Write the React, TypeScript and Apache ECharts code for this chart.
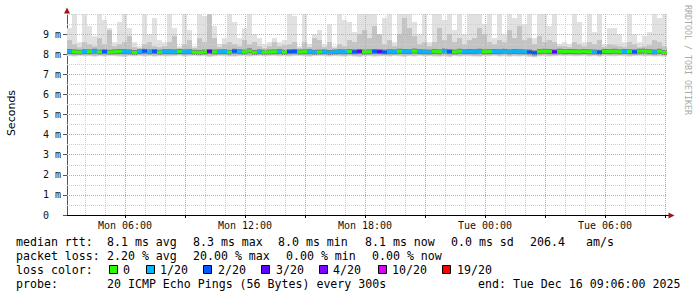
import React, { useEffect, useRef } from 'react';
import * as echarts from 'echarts';

// time axis: hours since Mon 00:00; window Mon 03:06 .. Tue 09:06
const START_HOUR = 3.1;
const END_HOUR = 33.1;
const STEP_HOURS = 0.25;

// values in milliseconds, one per 15-minute step
const medianRtt = [
  8.14, 8.12, 8.10, 8.13, 8.12, 8.15, 8.11, 8.13, 8.10, 8.12, 8.14, 8.13, 8.12, 8.09, 8.13, 8.15, 8.12, 8.14, 8.10, 8.13,
  8.13, 8.12, 8.14, 8.12, 8.13, 8.10, 8.09, 8.11, 8.14, 8.11, 8.12, 8.13, 8.10, 8.15, 8.13, 8.11, 8.17, 8.09, 8.12, 8.10,
  8.11, 8.12, 8.14, 8.10, 8.13, 8.14, 8.11, 8.12, 8.13, 8.10, 8.11, 8.12, 8.09, 8.11, 8.13, 8.12, 8.14, 8.12, 8.14, 8.11,
  8.12, 8.14, 8.13, 8.11, 8.13, 8.12, 8.15, 8.14, 8.13, 8.16, 8.13, 8.12, 8.11, 8.14, 8.12, 8.16, 8.13, 8.11, 8.15, 8.13,
  8.14, 8.13, 8.15, 8.12, 8.13, 8.14, 8.13, 8.15, 8.12, 8.14, 8.13, 8.12, 8.11, 8.07, 8.13, 8.15, 8.14, 8.12, 8.15, 8.13,
  8.14, 8.13, 8.12, 8.14, 8.12, 8.11, 8.10, 8.14, 8.13, 8.15, 8.12, 8.14, 8.13, 8.12, 8.15, 8.16, 8.13, 8.11, 8.15, 8.09,
];

const maxRtt = [
  9.3, 10.2, 8.6, 10.2, 9.4, 8.9, 10.2, 9.7, 9.3, 8.6, 9.6, 10.2, 9.3, 8.6, 8.4, 10.2, 9.0, 9.8, 8.7, 8.6,
  10.2, 9.3, 8.4, 10.2, 9.2, 8.4, 10.2, 9.9, 10.2, 9.4, 8.5, 8.8, 10.2, 9.6, 8.8, 9.3, 10.2, 9.0, 8.8, 8.5,
  8.6, 8.8, 8.6, 8.7, 10.2, 9.9, 8.4, 10.2, 8.5, 9.0, 9.2, 8.5, 9.5, 8.4, 10.2, 9.7, 9.6, 9.1, 10.2, 10.0,
  10.2, 10.2, 9.0, 9.8, 10.2, 8.6, 10.2, 10.2, 10.2, 9.6, 9.0, 10.2, 8.6, 10.2, 10.2, 9.7, 10.2, 9.2, 10.2, 9.0,
  10.2, 10.2, 10.2, 9.5, 10.2, 8.8, 10.2, 9.0, 10.2, 9.8, 10.2, 9.5, 10.2, 8.8, 10.2, 10.2, 9.4, 10.2, 8.5, 8.6,
  8.5, 10.2, 9.6, 8.6, 10.2, 9.1, 10.2, 8.5, 9.3, 9.3, 9.0, 8.6, 10.2, 9.0, 8.6, 8.9, 9.1, 10.2, 9.8, 10.0,
];

const upperRtt = [
  8.7, 8.5, 8.35, 8.6, 8.5, 8.4, 8.8, 8.5, 9.2, 8.4, 8.5, 8.6, 8.9, 8.35, 8.3, 8.5, 8.6, 8.4, 8.35, 8.4,
  8.6, 8.9, 8.3, 8.5, 8.7, 8.3, 8.8, 8.6, 10.2, 8.8, 8.35, 8.5, 8.6, 8.5, 8.4, 8.7, 8.5, 8.6, 8.4, 8.3,
  8.4, 8.6, 8.4, 8.45, 8.5, 8.6, 8.3, 8.6, 8.35, 8.8, 8.7, 8.35, 8.6, 8.3, 8.5, 8.4, 8.7, 8.6, 9.0, 9.2,
  8.8, 9.4, 9.0, 8.5, 8.7, 8.4, 9.0, 9.8, 9.3, 8.9, 8.5, 8.6, 8.4, 8.6, 9.3, 8.7, 9.0, 8.6, 8.8, 8.5,
  8.7, 8.8, 9.3, 9.0, 8.6, 8.5, 8.7, 8.6, 9.2, 8.8, 9.4, 8.7, 8.8, 8.5, 8.9, 8.6, 8.7, 8.6, 8.4, 8.4,
  8.35, 8.6, 8.5, 8.4, 8.6, 8.5, 8.7, 8.35, 8.5, 8.45, 8.4, 8.35, 8.6, 8.5, 8.35, 8.4, 8.45, 8.7, 8.6, 8.4,
];

const minRtt = [
  7.90, 7.88, 7.91, 7.89, 7.90, 7.87, 7.90, 7.88, 7.91, 7.90, 7.88, 7.86, 7.90, 7.89, 7.91, 7.88, 7.90, 7.87, 7.90, 7.89,
  7.89, 7.90, 7.92, 7.88, 7.90, 7.91, 7.89, 7.90, 7.86, 7.89, 7.91, 7.90, 7.88, 7.87, 7.90, 7.91, 7.88, 7.90, 7.91, 7.89,
  7.90, 7.91, 7.89, 7.90, 7.88, 7.90, 7.91, 7.89, 7.87, 7.90, 7.91, 7.90, 7.88, 7.90, 7.89, 7.87, 7.90, 7.88, 7.86, 7.89,
  7.90, 7.87, 7.89, 7.90, 7.88, 7.91, 7.89, 7.86, 7.90, 7.88, 7.91, 7.89, 7.90, 7.88, 7.87, 7.89, 7.86, 7.90, 7.88, 7.90,
  7.89, 7.88, 7.87, 7.90, 7.89, 7.91, 7.88, 7.90, 7.87, 7.89, 7.88, 7.90, 7.86, 7.84, 7.89, 7.90, 7.88, 7.89, 7.91, 7.90,
  7.91, 7.89, 7.90, 7.91, 7.88, 7.90, 7.87, 7.91, 7.90, 7.89, 7.91, 7.90, 7.88, 7.90, 7.91, 7.89, 7.90, 7.88, 7.89, 7.87,
];

// lost pings out of 20 for each step
const lossCount = [
  1, 0, 0, 1, 0, 1, 0, 2, 0, 0, 0, 1, 1, 0, 1, 2, 1, 2, 0, 1,
  1, 1, 0, 1, 1, 0, 0, 0, 3, 0, 1, 1, 0, 2, 1, 0, 0, 0, 1, 0,
  0, 0, 1, 0, 2, 2, 0, 0, 1, 1, 0, 1, 1, 1, 1, 1, 0, 2, 3, 0,
  0, 2, 3, 2, 1, 1, 0, 1, 1, 0, 1, 1, 1, 0, 0, 1, 2, 0, 0, 1,
  1, 1, 1, 0, 0, 1, 1, 1, 1, 1, 1, 1, 2, 2, 0, 0, 0, 3, 0, 0,
  0, 0, 0, 0, 0, 1, 2, 0, 0, 0, 0, 1, 0, 2, 0, 0, 0, 1, 0, 0,
];

const lossLevels = [0, 1, 2, 3, 4, 10, 19];
const lossLabels = ['0', '1/20', '2/20', '3/20', '4/20', '10/20', '19/20'];
const lossColors = ['#26ff00', '#00b8ff', '#0059ff', '#5e00ff', '#7e00ff', '#dd00ff', '#ff0000'];

const xLabelHours = [6, 12, 18, 24, 30];
const xLabelTexts = ['Mon 06:00', 'Mon 12:00', 'Mon 18:00', 'Tue 00:00', 'Tue 06:00'];
const xMajorHours = [6, 9, 12, 15, 18, 21, 24, 27, 30, 33];
const xMinorHours = [4, 5, 7, 8, 10, 11, 13, 14, 16, 17, 19, 20, 22, 23, 25, 26, 28, 29, 31, 32];
const yMajor = [1, 2, 3, 4, 5, 6, 7, 8, 9];
const yMinor = [0.5, 1.5, 2.5, 3.5, 4.5, 5.5, 6.5, 7.5, 8.5, 9.5, 10];
const yTicks = [0, 1, 2, 3, 4, 5, 6, 7, 8, 9];

const statLines = [
  { y: 241.5, parts: [['median rtt:', 16], ['8.1 ms avg', 107], ['8.3 ms max', 193], ['8.0 ms min', 278], ['8.1 ms now', 365], ['0.0 ms sd', 451], ['206.4', 530], ['am/s', 586]] },
  { y: 255.5, parts: [['packet loss:', 16], ['2.20 % avg', 107], ['20.00 % max', 193], ['0.00 % min', 286], ['0.00 % now', 372]] },
  { y: 283.5, parts: [['probe:', 16], ['20 ICMP Echo Pings (56 Bytes) every 300s', 107], ['end: Tue Dec 16 09:06:00 2025', 478]] },
];
const lossLegendBoxX = [109, 146, 203, 261, 319, 378, 442];
const lossLegendTextX = [123, 160, 218, 276, 333, 392, 457];

const MONO = '"DejaVu Sans Mono", monospace';

function bandSeries(color: string, lows: number[], highs: number[], z: number) {
  return {
    type: 'custom',
    z,
    silent: true,
    data: lows.map((lo, i) => [START_HOUR + i * STEP_HOURS, lo, highs[i]]),
    encode: { x: 0, y: [1, 2] },
    renderItem: (params: any, api: any) => {
      const t = api.value(0);
      const lo = api.value(1);
      const hi = api.value(2);
      const a = api.coord([t, hi]);
      const b = api.coord([t + STEP_HOURS, lo]);
      const cs = params.coordSys;
      const shape = echarts.graphic.clipRectByRect(
        { x: a[0], y: a[1], width: b[0] - a[0], height: b[1] - a[1] },
        { x: cs.x, y: cs.y, width: cs.width, height: cs.height }
      );
      if (!shape) return null;
      return { type: 'rect', shape, style: { fill: color } };
    },
  };
}

export default function App() {
  const ref = useRef<HTMLDivElement>(null);
  useEffect(() => {
    if (!ref.current) return;
    const chart = echarts.init(ref.current, null, { renderer: 'svg' });

    const gridLine = (color: string) => ({ color, width: 1, type: [1, 1] as any });

    const graphics: any[] = [
      { type: 'text', x: 11, y: 113, rotation: Math.PI / 2, style: { text: 'Seconds', font: '11px "DejaVu Sans", sans-serif', fill: '#000', align: 'center', verticalAlign: 'middle' } },
      { type: 'text', x: 688, y: 5, rotation: -Math.PI / 2, style: { text: 'RRDTOOL / TOBI OETIKER', font: '8.3px ' + MONO, fill: '#aaaaaa', align: 'left', verticalAlign: 'middle' } },
      { type: 'polygon', shape: { points: [[64, 13.5], [70, 13.5], [67, 7.5]] }, style: { fill: '#a31515' } },
      { type: 'line', shape: { x1: 667, y1: 215.5, x2: 669, y2: 215.5 }, style: { stroke: '#000', lineWidth: 1 } },
      { type: 'polygon', shape: { points: [[668.5, 212.5], [668.5, 218.5], [674.5, 215.5]] }, style: { fill: '#a31515' } },
    ];
    statLines.forEach((line) => {
      line.parts.forEach(([text, x]) => {
        graphics.push({ type: 'text', x: x as number, y: line.y, style: { text: text as string, font: '11.6px ' + MONO, fill: '#000', align: 'left', verticalAlign: 'middle' } });
      });
    });
    graphics.push({ type: 'text', x: 16, y: 269.5, style: { text: 'loss color:', font: '11.6px ' + MONO, fill: '#000', align: 'left', verticalAlign: 'middle' } });
    lossLevels.forEach((_, i) => {
      graphics.push({ type: 'rect', shape: { x: lossLegendBoxX[i] + 0.5, y: 265.5, width: 8, height: 8 }, style: { fill: lossColors[i], stroke: '#000', lineWidth: 1 } });
      graphics.push({ type: 'text', x: lossLegendTextX[i], y: 269.5, style: { text: lossLabels[i], font: '11.6px ' + MONO, fill: '#000', align: 'left', verticalAlign: 'middle' } });
    });

    const haloLow = medianRtt.map((m) => m - 0.13);
    const haloHigh = medianRtt.map((m) => m + 0.12);
    const midLow = minRtt.map((m) => m + 0.04);

    chart.setOption({
      animation: false,
      backgroundColor: '#ffffff',
      grid: { left: 67, right: 30, top: 14, bottom: 82, containLabel: false },
      xAxis: {
        type: 'value',
        min: START_HOUR,
        max: END_HOUR,
        axisLine: { show: true, lineStyle: { color: '#000', width: 1 } },
        axisTick: { show: true, customValues: xMajorHours, length: 3, lineStyle: { color: '#000' } },
        axisLabel: {
          customValues: xLabelHours,
          margin: 5,
          fontFamily: 'DejaVu Sans Mono',
          fontSize: 10,
          color: '#111',
          formatter: (v: number) => {
            const k = xLabelHours.indexOf(Math.round(v));
            return k >= 0 ? xLabelTexts[k] : '';
          },
        },
        splitLine: { show: false },
      },
      yAxis: {
        type: 'value',
        min: 0,
        max: 10,
        interval: 1,
        axisLine: { show: true, lineStyle: { color: '#555', width: 1 } },
        axisTick: { show: true, customValues: yTicks, length: 4, lineStyle: { color: '#555' } },
        axisLabel: {
          align: 'left',
          margin: 24,
          fontFamily: 'DejaVu Sans Mono',
          fontSize: 10,
          color: '#111',
          formatter: (v: number) => (v === 0 ? '0' : v >= 10 ? '' : v + ' m'),
        },
        splitLine: { show: false },
      },
      series: [
        bandSeries('#e1e1e1', minRtt, maxRtt, 2),
        bandSeries('#c3c3c3', midLow, upperRtt, 3),
        bandSeries('#7a7a7a', haloLow, haloHigh, 4),
        {
          type: 'custom',
          z: 5,
          silent: true,
          data: medianRtt.map((m, i) => [START_HOUR + i * STEP_HOURS, m, lossCount[i]]),
          encode: { x: 0, y: 1 },
          renderItem: (params: any, api: any) => {
            const t = api.value(0);
            const m = api.value(1);
            const loss = api.value(2);
            const a = api.coord([t, m]);
            const b = api.coord([t + STEP_HOURS, m]);
            let idx = 0;
            lossLevels.forEach((lv, k) => { if (loss >= lv) idx = k; });
            return { type: 'rect', shape: { x: a[0], y: a[1] - 1.5, width: b[0] - a[0], height: 3 }, style: { fill: lossColors[idx] } };
          },
        },
        {
          type: 'line',
          z: 8,
          silent: true,
          data: [],
          markLine: {
            silent: true,
            symbol: 'none',
            label: { show: false },
            lineStyle: gridLine('#cfcfcf'),
            data: [
              ...xMinorHours.map((h) => ({ xAxis: h })),
              ...yMinor.map((v) => ({ yAxis: v })),
            ],
          },
        },
        {
          type: 'line',
          z: 9,
          silent: true,
          data: [],
          markLine: {
            silent: true,
            symbol: 'none',
            label: { show: false },
            lineStyle: gridLine('#ee9999'),
            data: [
              ...xMajorHours.map((h) => ({ xAxis: h })),
              ...yMajor.map((v) => ({ yAxis: v })),
            ],
          },
        },
      ],
      graphic: graphics,
    });
    return () => chart.dispose();
  }, []);
  return <div ref={ref} style={{ position: 'fixed', left: 0, top: 0, width: 697, height: 297, background: '#fff' }} />;
}
